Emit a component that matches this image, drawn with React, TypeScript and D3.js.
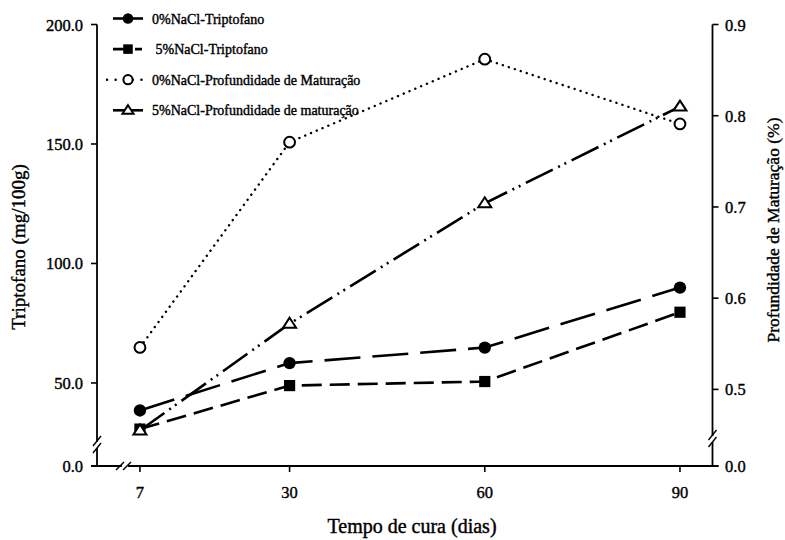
import React from "react";
import * as d3 from "d3";

const dias = [7, 30, 60, 90];
const trip0 = [38.5, 58.3, 64.8, 89.9];
const trip5 = [30.7, 48.9, 50.6, 79.6];
const prof0 = [0.546, 0.771, 0.862, 0.791];
const prof5 = [0.455, 0.572, 0.704, 0.81];

const leftTicks = [0, 50, 100, 150, 200];
const rightTicks = [0, 0.5, 0.6, 0.7, 0.8, 0.9];

const legendLabels = [
  "0%NaCl-Triptofano",
  " 5%NaCl-Triptofano",
  "0%NaCl-Profundidade de Maturação",
  "5%NaCl-Profundidade de maturação",
];

const font = "'Liberation Serif', 'Times New Roman', serif";

const W = 785;
const H = 540;
const left = 97;
const right = 712.5;
const top = 24.5;
const bottom = 466;

function Marker({ kind, x, y, s = 1 }) {
  if (kind === "dot") return <circle cx={x} cy={y} r={6.2 * s} fill="#000" />;
  if (kind === "square")
    return <rect x={x - 5.6 * s} y={y - 5.6 * s} width={11.2 * s} height={11.2 * s} fill="#000" />;
  if (kind === "ring")
    return <circle cx={x} cy={y} r={5.4 * s} fill="#fff" stroke="#000" strokeWidth={2} />;
  const h = 10 * s;
  const w = 6.5 * s;
  return (
    <path
      d={`M${x},${y - h * 0.6}L${x + w},${y + h * 0.4}L${x - w},${y + h * 0.4}Z`}
      fill="#fff"
      stroke="#000"
      strokeWidth={2}
    />
  );
}

// axis break marks "//"
function VBreak({ x, y }) {
  return (
    <g>
      <rect x={x - 3} y={y - 3} width={6} height={6} fill="#fff" />
      <line x1={x - 4} y1={y + 1} x2={x + 4} y2={y - 9} stroke="#000" strokeWidth={1.4} />
      <line x1={x - 4} y1={y + 8} x2={x + 4} y2={y - 2} stroke="#000" strokeWidth={1.4} />
    </g>
  );
}

function HBreak({ x, y }) {
  return (
    <g>
      <rect x={x - 3} y={y - 3} width={6} height={6} fill="#fff" />
      <line x1={x - 9} y1={y + 4} x2={x - 1} y2={y - 4} stroke="#000" strokeWidth={1.4} />
      <line x1={x - 2} y1={y + 4} x2={x + 6} y2={y - 4} stroke="#000" strokeWidth={1.4} />
    </g>
  );
}

export default function App() {
  const x = d3.scaleLinear().domain([0.4, 95]).range([left, right]);
  const yL = d3.scaleLinear().domain([0, 25, 200]).range([bottom, 442.7, top]);
  const yR = d3.scaleLinear().domain([0, 0.45, 0.9]).range([bottom, 435, top]);
  const fmt = d3.format(".1f");

  const series = [
    { vals: trip0, y: yL, kind: "dot", dash: "36,12", w: 2.6, cap: "butt", legDash: null },
    { vals: trip5, y: yL, kind: "square", dash: "20,8", w: 2.6, cap: "butt", legDash: "15,7,7,20" },
    { vals: prof0, y: yR, kind: "ring", dash: "0.1,6.2", w: 2.4, cap: "round", legDash: "0.1,8.5" },
    { vals: prof5, y: yR, kind: "tri", dash: "30,6,2,5,2,6", w: 2.6, cap: "butt", legDash: null },
  ];

  const textStyle = { fontFamily: font, fill: "#000", stroke: "#000", strokeWidth: 0.4 };

  return (
    <svg width={W} height={H} style={{ position: "absolute", left: 0, top: 0 }}>
      <rect width={W} height={H} fill="#fff" />

      <line x1={left} y1={top} x2={left} y2={bottom} stroke="#000" strokeWidth={1.8} />
      <line x1={right} y1={top} x2={right} y2={bottom} stroke="#000" strokeWidth={1.8} />
      <line x1={left - 6} y1={bottom} x2={right + 6} y2={bottom} stroke="#000" strokeWidth={1.8} />

      {leftTicks.map((t) => (
        <g key={"l" + t}>
          <line x1={left - 6} x2={left} y1={yL(t)} y2={yL(t)} stroke="#000" strokeWidth={1.6} />
          <text x={83} y={yL(t) + 6} textAnchor="end" fontSize={16.5} style={textStyle}>
            {fmt(t)}
          </text>
        </g>
      ))}
      {rightTicks.map((t) => (
        <g key={"r" + t}>
          <line x1={right} x2={right + 6} y1={yR(t)} y2={yR(t)} stroke="#000" strokeWidth={1.6} />
          <text x={725} y={yR(t) + 6} textAnchor="start" fontSize={16.5} style={textStyle}>
            {fmt(t)}
          </text>
        </g>
      ))}
      {dias.map((d) => (
        <g key={"x" + d}>
          <line x1={x(d)} x2={x(d)} y1={bottom} y2={bottom + 6} stroke="#000" strokeWidth={1.6} />
          <text x={x(d)} y={498} textAnchor="middle" fontSize={16.5} style={textStyle}>
            {d}
          </text>
        </g>
      ))}

      <VBreak x={left} y={445} />
      <VBreak x={right} y={439} />
      <HBreak x={125} y={bottom} />

      <text
        transform="translate(25,247) rotate(-90)"
        textAnchor="middle"
        fontSize={19}
        style={textStyle}
      >
        Triptofano (mg/100g)
      </text>
      <text
        transform="translate(779,230) rotate(-90)"
        textAnchor="middle"
        fontSize={17.5}
        style={textStyle}
      >
        Profundidade de Maturação (%)
      </text>
      <text x={412} y={533} textAnchor="middle" fontSize={20} style={textStyle}>
        Tempo de cura (dias)
      </text>

      {series.map((s, i) => {
        const line = d3
          .line<number>()
          .x((_, j) => x(dias[j]))
          .y((v) => s.y(v));
        return (
          <path
            key={"p" + i}
            d={line(s.vals) || ""}
            fill="none"
            stroke="#000"
            strokeWidth={s.w}
            strokeDasharray={s.dash}
            strokeLinecap={s.cap}
          />
        );
      })}

      {series.map((s, i) =>
        s.vals.map((v, j) => (
          <Marker key={"m" + i + "-" + j} kind={s.kind} x={x(dias[j])} y={s.y(v)} />
        ))
      )}

      {series.map((s, i) => {
        const ly = 18.5 + i * 30.6;
        return (
          <g key={"lg" + i}>
            <line
              x1={s.kind === "ring" ? 107 : 113}
              x2={143}
              y1={ly}
              y2={ly}
              stroke="#000"
              strokeWidth={s.w}
              strokeDasharray={s.legDash || undefined}
              strokeLinecap={s.cap}
            />
            <Marker kind={s.kind} x={128} y={ly} s={0.85} />
            <text x={152} y={ly + 5} fontSize={14} style={{ ...textStyle, whiteSpace: "pre" }}>
              {legendLabels[i]}
            </text>
          </g>
        );
      })}
    </svg>
  );
}
